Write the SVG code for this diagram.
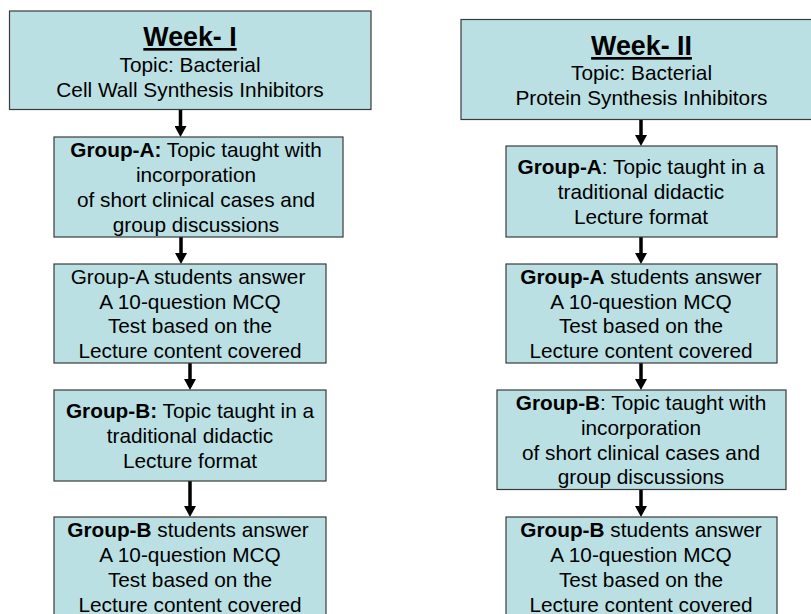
<svg xmlns="http://www.w3.org/2000/svg" width="811" height="614" viewBox="0 0 811 614">
<style>
.box{fill:#BBE0E3;stroke:#3a3a3a;stroke-width:1.2}
.t{font-family:"Liberation Sans",Arial,sans-serif;font-size:20.8px;fill:#000;text-anchor:middle}
.h{font-family:"Liberation Sans",Arial,sans-serif;font-size:26.8px;font-weight:bold;fill:#000;text-anchor:middle;text-decoration:underline}
.b{font-weight:bold}
.c{stroke:#000;stroke-width:3.5;fill:none;marker-end:url(#ah)}
</style>
<defs>
<marker id="ah" markerUnits="userSpaceOnUse" markerWidth="12" markerHeight="12" refX="1" refY="6" orient="auto">
<path d="M0,0 L11,6 L0,12 Z" fill="#000"/>
</marker>
</defs>
<rect width="811" height="614" fill="#fff"/>
<g id="connectors">
<line class="c" x1="180.5" y1="109.5" x2="180.5" y2="127"/>
<line class="c" x1="181" y1="237" x2="181" y2="254"/>
<line class="c" x1="190" y1="363" x2="190" y2="380"/>
<line class="c" x1="190" y1="481" x2="190" y2="507"/>
<line class="c" x1="641" y1="119.5" x2="641" y2="136"/>
<line class="c" x1="641" y1="237" x2="641" y2="254"/>
<line class="c" x1="641" y1="363" x2="641" y2="380"/>
<line class="c" x1="641" y1="489.5" x2="641" y2="507"/>
</g>
<g id="week1">
<rect class="box" x="9.5" y="11" width="361.5" height="98.5"/>
<text class="h" x="190" y="46">Week- I</text>
<text class="t" x="190" y="72">Topic: Bacterial</text>
<text class="t" x="190" y="96.5">Cell Wall Synthesis Inhibitors</text>
</g>
<g id="w1-groupA">
<rect class="box" x="54" y="137" width="289" height="100"/>
<text class="t" x="196" y="157"><tspan class="b">Group-A:</tspan> Topic taught with</text>
<text class="t" x="196" y="182">incorporation</text>
<text class="t" x="196" y="207">of short clinical cases and</text>
<text class="t" x="196" y="232">group discussions</text>
</g>
<g id="w1-testA">
<rect class="box" x="54" y="264" width="272" height="99"/>
<text class="t" x="188" y="283.5">Group-A students answer</text>
<text class="t" x="190" y="308.5">A 10-question MCQ</text>
<text class="t" x="190" y="332.5">Test based on the</text>
<text class="t" x="190" y="357.5">Lecture content covered</text>
</g>
<g id="w1-groupB">
<rect class="box" x="54" y="390" width="272" height="91"/>
<text class="t" x="190" y="417.5"><tspan class="b">Group-B:</tspan> Topic taught in a</text>
<text class="t" x="190" y="442.5">traditional didactic</text>
<text class="t" x="190" y="467.5">Lecture format</text>
</g>
<g id="w1-testB">
<rect class="box" x="54" y="517" width="272" height="110"/>
<text class="t" x="188" y="536.5"><tspan class="b">Group-B</tspan> students answer</text>
<text class="t" x="190" y="561.5">A 10-question MCQ</text>
<text class="t" x="190" y="586.5">Test based on the</text>
<text class="t" x="190" y="611.5">Lecture content covered</text>
</g>
<g id="week2">
<rect class="box" x="461" y="19.5" width="361" height="100"/>
<text class="h" x="641.5" y="55">Week- II</text>
<text class="t" x="641.5" y="80">Topic: Bacterial</text>
<text class="t" x="641.5" y="105">Protein Synthesis Inhibitors</text>
</g>
<g id="w2-groupA">
<rect class="box" x="506" y="146" width="271" height="91"/>
<text class="t" x="641" y="173.5"><tspan class="b">Group-A</tspan>: Topic taught in a</text>
<text class="t" x="641" y="199">traditional didactic</text>
<text class="t" x="641" y="224">Lecture format</text>
</g>
<g id="w2-testA">
<rect class="box" x="506" y="264" width="271" height="99"/>
<text class="t" x="641" y="283.5"><tspan class="b">Group-A</tspan> students answer</text>
<text class="t" x="641" y="308.5">A 10-question MCQ</text>
<text class="t" x="641" y="332.5">Test based on the</text>
<text class="t" x="641" y="357.5">Lecture content covered</text>
</g>
<g id="w2-groupB">
<rect class="box" x="497" y="390" width="289" height="99.5"/>
<text class="t" x="641" y="410"><tspan class="b">Group-B</tspan>: Topic taught with</text>
<text class="t" x="641" y="434.5">incorporation</text>
<text class="t" x="641" y="459.5">of short clinical cases and</text>
<text class="t" x="641" y="484">group discussions</text>
</g>
<g id="w2-testB">
<rect class="box" x="506" y="517" width="271" height="110"/>
<text class="t" x="641" y="536.5"><tspan class="b">Group-B</tspan> students answer</text>
<text class="t" x="641" y="561.5">A 10-question MCQ</text>
<text class="t" x="641" y="586.5">Test based on the</text>
<text class="t" x="641" y="611.5">Lecture content covered</text>
</g>
</svg>
